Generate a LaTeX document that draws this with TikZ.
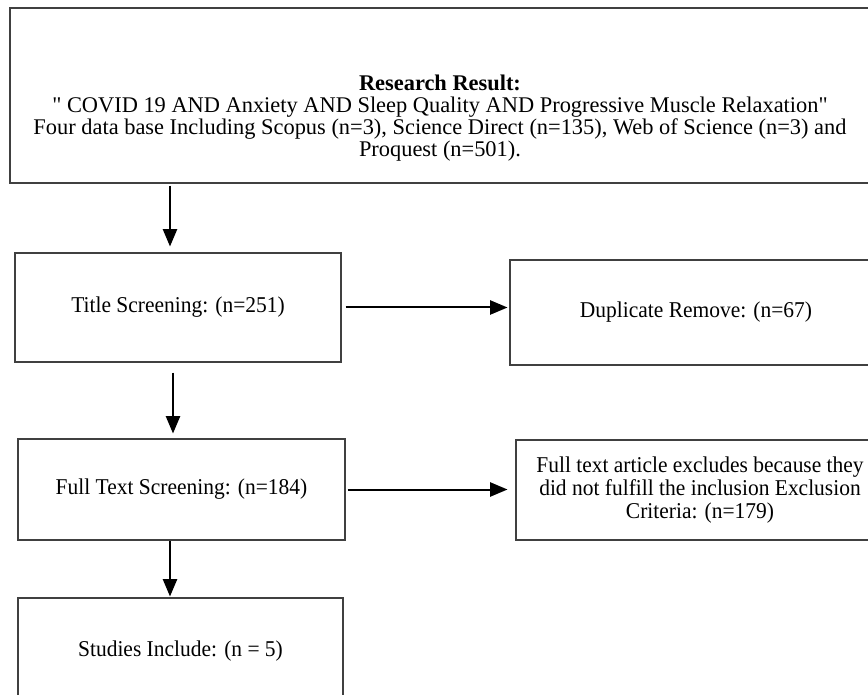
\documentclass[tikz,border=0pt]{standalone}
\usepackage{fontspec}
\setmainfont{Liberation Serif}
\newfontfamily\boxfont{Liberation Serif}[FakeStretch=0.95]
\usetikzlibrary{arrows}

\begin{document}
\begin{tikzpicture}[x=0.5pt,y=-0.5pt,>=triangle 45,line width=1pt,
		box/.style={rectangle,draw=black!75,line width=0.6pt,align=center,
			font=\boxfont\fontsize{11.3}{11.3}\selectfont},
		note/.style={align=center,font=\fontsize{11.2}{11}\selectfont}]
	\useasboundingbox (0,0) rectangle (868,695);

	\node[box,minimum width=430pt,minimum height=87.5pt] (res) at (440,95.5) {};
	\node[note] (restext) at (440,118) {\textbf{Research Result:}\\
		\textquotedbl{} COVID 19 AND Anxiety AND Sleep Quality AND Progressive Muscle Relaxation\textquotedbl\\
		Four data base Including Scopus (n=3), Science Direct (n=135), Web of Science (n=3) and\\
		Proquest (n=501).};
	\node[box,minimum width=163pt,minimum height=54.5pt] (title) at (178,307.5) {Title Screening: (n=251)};
	\node[box,minimum width=186pt,minimum height=52.5pt] (dup) at (696,312.5) {Duplicate Remove: (n=67)};
	\node[box,minimum width=163.5pt,minimum height=50.5pt] (full) at (181.5,489.5) {Full Text Screening: (n=184)};
	\node[box,minimum width=184pt,minimum height=50pt] (excl) at (700,490) {Full text article excludes because they\\
		did not fulfill the inclusion Exclusion\\ Criteria: (n=179)};
	\node[box,minimum width=162.5pt,minimum height=53pt] (incl) at (180.5,651) {Studies Include: (n = 5)};

	\draw[->,shorten <=1pt,shorten >=3pt] ([xshift=-4pt]title.north |- res.south) -- ([xshift=-4pt]title.north);
	\draw[->,shorten <=5pt,shorten >=2.5pt] ([xshift=-4.25pt]full.north |- title.south) -- ([xshift=-4.25pt]full.north);
	\draw[->,shorten >=0.5pt] ([xshift=-5.25pt]incl.north |- full.south) -- ([xshift=-5.25pt]incl.north);
	\draw[->,shorten <=2pt,shorten >=1pt] (title.east) -- (title.east -| dup.west);
	\draw[->,shorten <=1pt,shorten >=4pt] (full.east) -- (full.east -| excl.west);
\end{tikzpicture}
\end{document}
